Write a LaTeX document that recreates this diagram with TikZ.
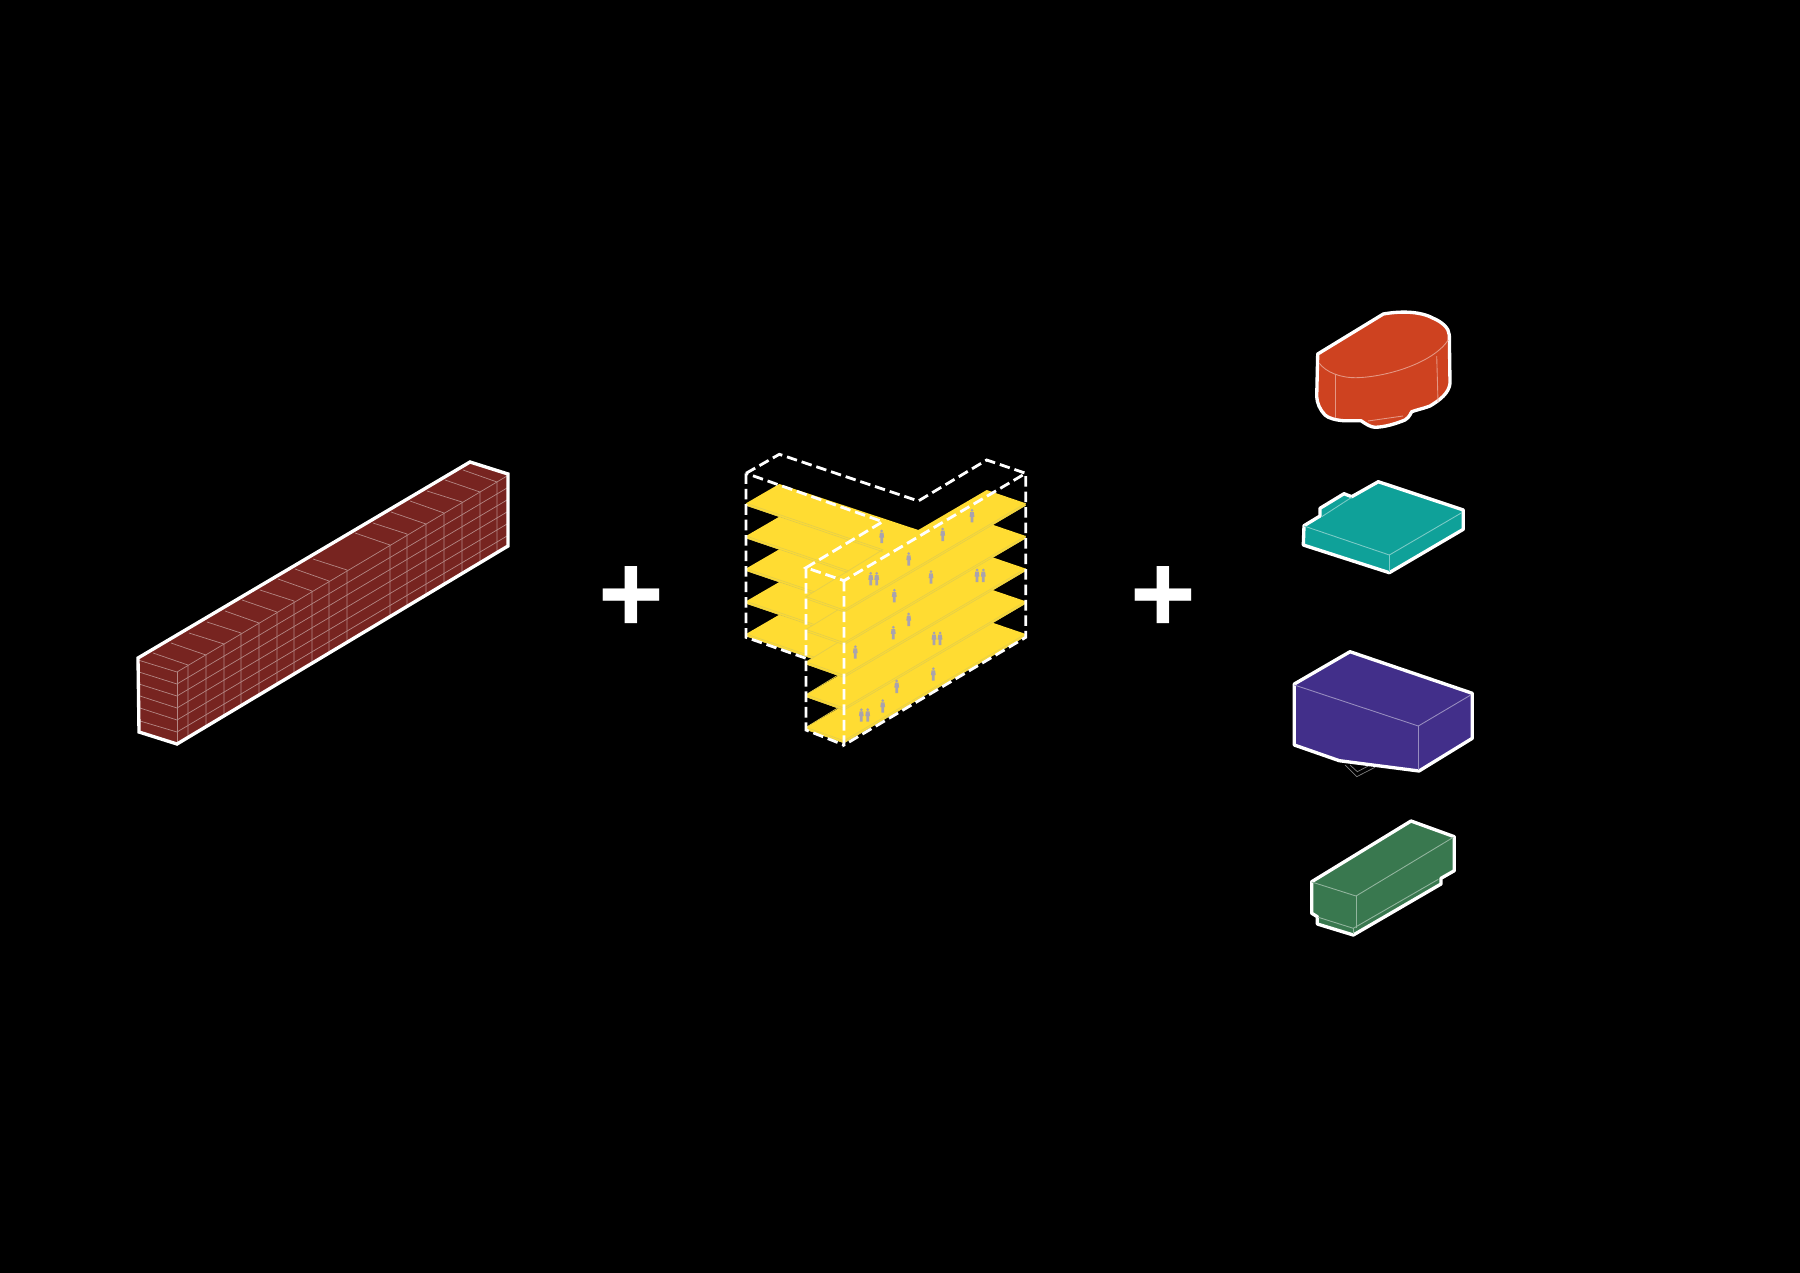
\documentclass[tikz,border=0pt]{standalone}
\usepackage{fontspec}
\setmainfont{Liberation Sans}
\definecolor{beamred}{HTML}{772420}
\definecolor{floorwarm}{HTML}{FFDC32}
\definecolor{floorline}{HTML}{E6CF4A}
\definecolor{iconlilac}{HTML}{A9A3AE}
\definecolor{massred}{HTML}{CE4220}
\definecolor{massteal}{HTML}{0FA199}
\definecolor{massblue}{HTML}{422F8A}
\definecolor{massgreen}{HTML}{39784F}
\tikzset{
	outline/.style={draw=white,line width=0.95pt,line join=miter},
	gridline/.style={draw=white!45!beamred,line width=0.2pt},
	innerline/.style={draw=white!45!#1,line width=0.25pt},
	massing/.style={draw=white,fill=#1,line width=0.95pt,line join=round},
	dashbox/.style={draw=white,line width=0.8pt,dash pattern=on 3pt off 1.4pt},
	plussign/.style={text=white,font=\bfseries\fontsize{32}{32}\selectfont,inner sep=0pt},
	person/.pic={
		\fill[iconlilac] (0,-5) circle (1.5);
		\fill[iconlilac] (-1.8,-3.3) -- (1.8,-3.3) -- (2.4,1.5) -- (1.4,1.5) -- (1.4,7) -- (-1.4,7) -- (-1.4,1.5) -- (-2.4,1.5) -- cycle;
	},
	floorplate/.pic={
		\path[fill=floorwarm] (746,503.3) -- (779.3,484) -- (918.3,530) -- (986.7,490) -- (1025.7,503.3) -- (1025.7,505.5) -- (844,612.5) -- (806,599) -- (806,596.7) -- (882.7,551.7) -- (746,505.5) -- cycle;
		\draw[floorline,line width=0.2pt] (746,503.3) -- (882.7,549.7) -- (806,596.7) -- (844,610) -- (1025.7,503.3);
		\draw[floorline,line width=0.2pt] (746,505.3) -- (882.7,551.7) (806,598.7) -- (844,612) -- (1025.7,505.3);
	},
}
\begin{document}
\begin{tikzpicture}[x=0.01cm,y=-0.01cm]
		\useasboundingbox[fill=black] (0,0) rectangle (1800,1273);
		% long beam
		\path[fill=beamred] (138,658) -- (470,462) -- (508,474) -- (508,546) -- (177,744) -- (139,732) -- cycle;
		\draw[gridline] (138,660) -- (177,672) -- (507,476);
		\draw[gridline] (177,672) -- (177,744);
		\draw[gridline] (139,672) -- (177,684) -- (507,488);
		\draw[gridline] (139,684) -- (177,696) -- (507,500);
		\draw[gridline] (140,696) -- (177,708) -- (507,512);
		\draw[gridline] (140,708) -- (177,720) -- (507,524);
		\draw[gridline] (140,721) -- (177,732) -- (507,536);
		\draw[gridline] (153,653) -- (188,665) -- (188,737);
		\draw[gridline] (171,643) -- (206,655) -- (206,726);
		\draw[gridline] (189,633) -- (224,644) -- (224,716);
		\draw[gridline] (207,622) -- (241,633) -- (241,705);
		\draw[gridline] (225,611) -- (259,623) -- (259,695);
		\draw[gridline] (242,600) -- (277,612) -- (277,684);
		\draw[gridline] (260,590) -- (294,601) -- (294,674);
		\draw[gridline] (278,579) -- (312,591) -- (312,663);
		\draw[gridline] (295,569) -- (329,581) -- (329,653);
		\draw[gridline] (313,559) -- (347,570) -- (347,642);
		\draw[gridline] (355,533) -- (390,545) -- (390,616);
		\draw[gridline] (373,523) -- (407,534) -- (407,606);
		\draw[gridline] (391,512) -- (426,524) -- (426,595);
		\draw[gridline] (410,501) -- (444,513) -- (444,584);
		\draw[gridline] (427,491) -- (462,502) -- (462,573);
		\draw[gridline] (445,480) -- (480,492) -- (480,563);
		\draw[gridline] (463,470) -- (497,482) -- (497,552);
		\draw[outline] (138,658) -- (470,462) -- (508,474) -- (508,546) -- (177,744) -- (139,732) -- cycle;
		\node[plussign] (plusa) at (631,599) {+};
		% yellow floors, lowest first
		\pic at (0,130.7) {floorplate};
		\pic at (0,98) {floorplate};
		\pic at (0,65.3) {floorplate};
		\pic at (0,32.7) {floorplate};
		\pic at (0,0) {floorplate};
		\pic at (881.7,536) {person};
		\pic at (908.7,558.7) {person};
		\pic at (942.7,534) {person};
		\pic at (972,515.3) {person};
		\pic at (870.7,578.3) {person};
		\pic at (876.7,578.3) {person};
		\pic at (931,576.7) {person};
		\pic at (977,575) {person};
		\pic at (983.3,575) {person};
		\pic at (894.3,595.3) {person};
		\pic at (908.7,619) {person};
		\pic at (893.3,632.3) {person};
		\pic at (934,638) {person};
		\pic at (940,638) {person};
		\pic at (855.3,651.7) {person};
		\pic at (933.3,673.7) {person};
		\pic at (896.7,686) {person};
		\pic at (882.7,705.7) {person};
		\pic at (861.3,714.7) {person};
		\pic at (867.7,714.7) {person};
		\draw[dashbox] (746,473.3) -- (779.3,454.3) -- (918.3,501) -- (986.7,460) -- (1025.7,473.3) -- (844,580.7) -- (806,567.7) -- (882.7,521.7) -- cycle;
		\draw[dashbox] (746,473.3) -- (746,637.3) -- (806,658.3);
		\draw[dashbox] (806,567.7) -- (806,730) -- (844,745);
		\draw[dashbox] (844,580.7) -- (844,745) -- (1025.7,637.3) -- (1025.7,473.3);
		\node[plussign] (plusb) at (1163,599) {+};
		% red volume
		\path[massing=massred] (1317.7,354) -- (1383.3,314) .. controls (1400,311) and (1420,311) .. (1433.3,318.3) .. controls (1442,322) and (1449,328) .. (1449.3,335) -- (1450,383.3) .. controls (1449,393) and (1440,400) .. (1430,406) .. controls (1422,409) and (1416,410) .. (1411.7,411.7) .. controls (1409,417) and (1407,419) .. (1405,420) .. controls (1395,424) and (1385,427) .. (1375,427.3) .. controls (1370,427) and (1366,424) .. (1361,420.7) -- (1343.3,420.7) .. controls (1335,420) and (1328,418) .. (1325,415) .. controls (1320,410) and (1317,403) .. (1316.7,396.7) -- cycle;
		\draw[innerline=massred] (1319.3,363.3) .. controls (1326,372) and (1340,378) .. (1356.7,377.7) .. controls (1385,377) and (1432,364) .. (1448.3,340);
		\draw[innerline=massred] (1335,373.5) -- (1335,418);
		\draw[innerline=massred] (1436.7,356) -- (1438,402);
		\draw[innerline=massred] (1368,421) -- (1403,416);
		% teal volume
		\path[massing=massteal] (1304,525.7) -- (1320,516) -- (1320,508.3) -- (1344,493.7) -- (1351.7,496.7) -- (1378.3,481.7) -- (1463.3,510) -- (1463.3,529.3) -- (1389.3,572.7) -- (1303.3,545) -- cycle;
		\draw[innerline=massteal] (1304,526) -- (1389.3,555) -- (1461.7,512.7);
		\draw[innerline=massteal] (1389.3,555) -- (1389.3,572);
		\draw[innerline=massteal] (1321.7,516.7) -- (1351.7,497.3);
		% blue volume
		\draw[gray,line width=0.2pt] (1345,765) -- (1356.7,776.7) -- (1375,767.3);
		\draw[gray,line width=0.2pt] (1350,765) -- (1357.3,771.7) -- (1370,765);
		\path[massing=massblue] (1294.3,684) -- (1350,651.7) -- (1472.3,693.3) -- (1472.3,738.3) -- (1419,771) -- (1339.3,760.7) -- (1294.3,745) -- cycle;
		\draw[innerline=massblue] (1294.3,685) -- (1418.3,726) -- (1470.7,695);
		\draw[innerline=massblue] (1418.3,726) -- (1418.3,770);
		% green volume
		\path[massing=massgreen] (1311.7,881.7) -- (1411,821) -- (1454.3,836.7) -- (1454.3,870.7) -- (1441,878.3) -- (1441,884) -- (1353.3,935) -- (1317.3,924) -- (1317.3,916.7) -- (1311.7,913.3) -- cycle;
		\draw[innerline=massgreen] (1311.7,882) -- (1356,896) -- (1453.3,837.3);
		\draw[innerline=massgreen] (1356,896) -- (1356,928.3);
		\draw[innerline=massgreen] (1318.3,917.3) -- (1353.3,928.3) -- (1438.3,879.3);
		\draw[innerline=massgreen] (1353.3,928.3) -- (1353.3,934);
		\end{tikzpicture}
\end{document}
